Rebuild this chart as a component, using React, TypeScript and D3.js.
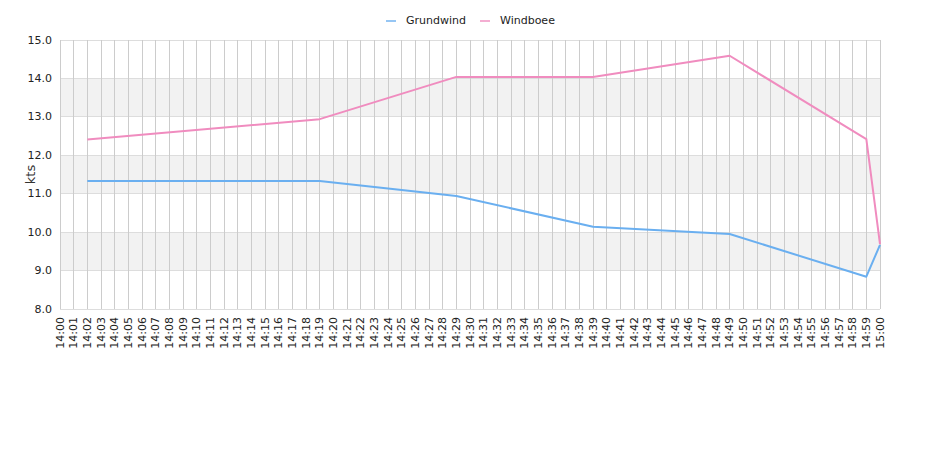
import React from "react";
import * as d3 from "d3";

const minutes: number[] = d3.range(0, 61);
const tickLabels: string[] = minutes.map((m) => {
  const h = 14 + Math.floor(m / 60);
  const mm = m % 60;
  return `${h}:${mm < 10 ? "0" + mm : mm}`;
});

const pointMinutes: number[] = [2, 19, 29, 39, 49, 59, 60];
const grundwind: number[] = [11.33, 11.33, 10.94, 10.14, 9.95, 8.84, 9.67];
const windboee: number[] = [12.41, 12.94, 14.04, 14.04, 14.59, 12.42, 9.69];
const yTicks: number[] = [8, 9, 10, 11, 12, 13, 14, 15];
const bands: number[] = [9, 11, 13];

const seriesNames = ["Grundwind", "Windboee"];
const seriesColors = ["#6aaff0", "#f08cbf"];

export default function App() {
  const W = 940, H = 450;
  const left = 60, right = 880, top = 40, bottom = 309;
  const x = d3.scaleLinear().domain([0, 60]).range([left, right]);
  const y = d3.scaleLinear().domain([8, 15]).range([bottom, top]);
  const line = d3
    .line<number>()
    .x((_, i) => x(pointMinutes[i]))
    .y((d) => y(d));
  const font = "'DejaVu Sans', Verdana, sans-serif";
  const series = [grundwind, windboee];
  const legendX = [386, 480];

  return (
    <svg width={W} height={H} style={{ position: "absolute", left: 0, top: 0, fontFamily: font }}>
      <rect x={0} y={0} width={W} height={H} fill="#fff" />
      {bands.map((b) => (
        <rect key={b} x={left} y={y(b + 1)} width={right - left} height={y(b) - y(b + 1)} fill="#f2f2f2" />
      ))}
      {yTicks.map((t) => (
        <line key={"h" + t} x1={left} x2={right} y1={y(t)} y2={y(t)} stroke="#dddddd" strokeWidth={1} shapeRendering="crispEdges" />
      ))}
      {minutes.map((m) => (
        <line key={"v" + m} x1={x(m)} x2={x(m)} y1={top} y2={bottom} stroke="#cccccc" strokeWidth={1} shapeRendering="crispEdges" />
      ))}
      {yTicks.map((t) => (
        <text key={"yl" + t} x={52} y={y(t)} textAnchor="end" dominantBaseline="central" fontSize={11} fill="#222">
          {t.toFixed(1)}
        </text>
      ))}
      <text transform={`translate(30,${(top + bottom) / 2}) rotate(-90)`} textAnchor="middle" dominantBaseline="central" fontSize={13} fill="#333">
        kts
      </text>
      {minutes.map((m, i) => (
        <text key={"xl" + m} transform={`translate(${x(m)},317) rotate(-90)`} textAnchor="end" dominantBaseline="central" fontSize={11} fill="#222">
          {tickLabels[i]}
        </text>
      ))}
      {series.map((s, i) => (
        <path key={"s" + i} d={line(s) || ""} fill="none" stroke={seriesColors[i]} strokeWidth={2} strokeLinejoin="round" />
      ))}
      {seriesNames.map((n, i) => (
        <g key={"lg" + i}>
          <line x1={legendX[i]} x2={legendX[i] + 10} y1={21} y2={21} stroke={seriesColors[i]} strokeWidth={2} opacity={0.7} />
          <text x={legendX[i] + 20} y={20} dominantBaseline="central" fontSize={11} fill="#222">
            {n}
          </text>
        </g>
      ))}
    </svg>
  );
}
